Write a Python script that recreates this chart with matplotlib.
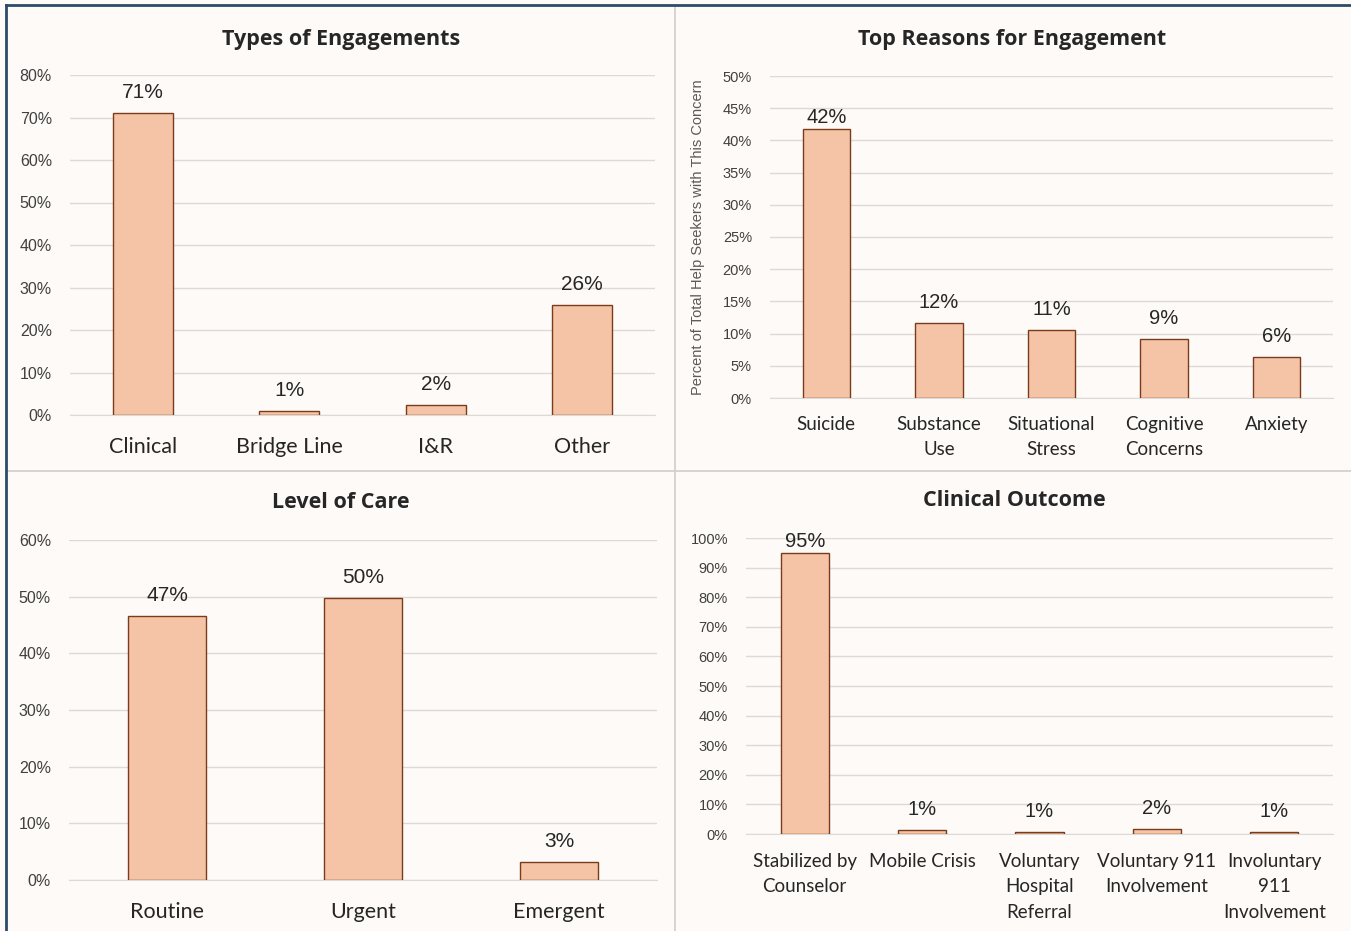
import matplotlib.pyplot as plt
from matplotlib.lines import Line2D

# data
eng_cats = ["Clinical", "Bridge Line", "I&R", "Other"]
eng_vals = [71.0, 0.9, 2.3, 25.9]

reason_cats = ["Suicide", "Substance\nUse", "Situational\nStress", "Cognitive\nConcerns", "Anxiety"]
reason_vals = [41.8, 11.6, 10.6, 9.2, 6.4]

care_cats = ["Routine", "Urgent", "Emergent"]
care_vals = [46.6, 49.8, 3.2]

outcome_cats = ["Stabilized by\nCounselor", "Mobile Crisis", "Voluntary\nHospital\nReferral",
                "Voluntary 911\nInvolvement", "Involuntary\n911\nInvolvement"]
outcome_vals = [94.9, 1.2, 0.6, 1.8, 0.8]

W, H = 1351, 931
BG = "#FDFAF7"
BAR = "#F5C4A6"
EDGE = "#7A3B1C"
GRID = "#DDDAD6"
TXT = "#262626"

fig = plt.figure(figsize=(W / 100, H / 100), dpi=100)
fig.patch.set_facecolor(BG)


def px_axes(x0, y0, x1, y1):
    # pixel box (top-left origin) -> figure axes
    return fig.add_axes([x0 / W, 1 - y1 / H, (x1 - x0) / W, (y1 - y0) / H])


def panel(box, cats, vals, ymax, step, title, title_xy, width=0.41, ylabel=None,
          cat_size=15.5, tick_size=11.5, xpad=16, offsets=None):
    ax = px_axes(*box)
    ax.set_facecolor(BG)
    x = range(len(cats))
    ax.bar(x, vals, width=width, color=BAR, edgecolor=EDGE, linewidth=1.0, zorder=3)
    ax.set_xlim(-0.5, len(cats) - 0.5)
    ax.set_ylim(0, ymax)
    ticks = list(range(0, ymax + 1, step))
    ax.set_yticks(ticks)
    ax.set_yticklabels([f"{t}%" for t in ticks], fontsize=tick_size, color="#404040",
                       family="Liberation Sans")
    ax.set_xticks(list(x))
    ax.set_xticklabels(cats, fontsize=cat_size, color=TXT, family="Lato", linespacing=1.6,
                       va="top")
    ax.tick_params(axis="y", length=0, pad=13)
    ax.tick_params(axis="x", length=0, pad=xpad)
    ax.grid(axis="y", color=GRID, linewidth=1.0, zorder=0)
    for s in ["top", "right", "left"]:
        ax.spines[s].set_visible(False)
    ax.spines["bottom"].set_color(GRID)
    if offsets is None:
        offsets = [8] * len(vals)
    for i, v in enumerate(vals):
        ax.annotate(f"{round(v)}%", (i, v), xytext=(0, offsets[i]), textcoords="offset points",
                    ha="center", va="bottom", fontsize=15 if tick_size > 11 else 14.5,
                    color=TXT, family="Liberation Sans")
    if ylabel:
        ax.set_ylabel(ylabel, fontsize=10.5, color="#595959", family="Liberation Sans",
                      labelpad=13)
    fig.text(title_xy[0] / W, 1 - title_xy[1] / H, title, ha="center", va="center",
             fontsize=15.5, fontweight="bold", color=TXT, family="Open Sans")
    return ax


panel((70, 75, 655, 415), eng_cats, eng_vals, 80, 10, "Types of Engagements", (341, 39))
panel((770, 76, 1333, 398), reason_cats, reason_vals, 50, 5, "Top Reasons for Engagement",
      (1012, 39), width=0.42, ylabel="Percent of Total Help Seekers with This Concern",
      cat_size=13.5, tick_size=10.5, xpad=13, offsets=[1, 8, 8, 8, 8])
panel((69, 540, 657, 880), care_cats, care_vals, 60, 10, "Level of Care", (341, 502), width=0.40)
panel((746, 538, 1333, 834), outcome_cats, outcome_vals, 100, 10, "Clinical Outcome", (1014, 501),
      cat_size=13.5, tick_size=10.5, xpad=13.5, offsets=[1.5, 8, 8, 8, 8])

# panel separators and outer frame
fig.add_artist(Line2D([675 / W, 675 / W], [0, 1 - 6 / H], transform=fig.transFigure,
                      color="#D0CDCA", linewidth=1.2))
fig.add_artist(Line2D([7 / W, 1], [1 - 471 / H, 1 - 471 / H], transform=fig.transFigure,
                      color="#D0CDCA", linewidth=1.2))
fig.add_artist(Line2D([6 / W, 6 / W], [0, 1 - 5 / H], transform=fig.transFigure,
                      color="#2E4A6B", linewidth=2))
fig.add_artist(Line2D([6 / W, 1], [1 - 5 / H, 1 - 5 / H], transform=fig.transFigure,
                      color="#2E4A6B", linewidth=2))

fig.savefig("out.png", dpi=100, facecolor=BG)
